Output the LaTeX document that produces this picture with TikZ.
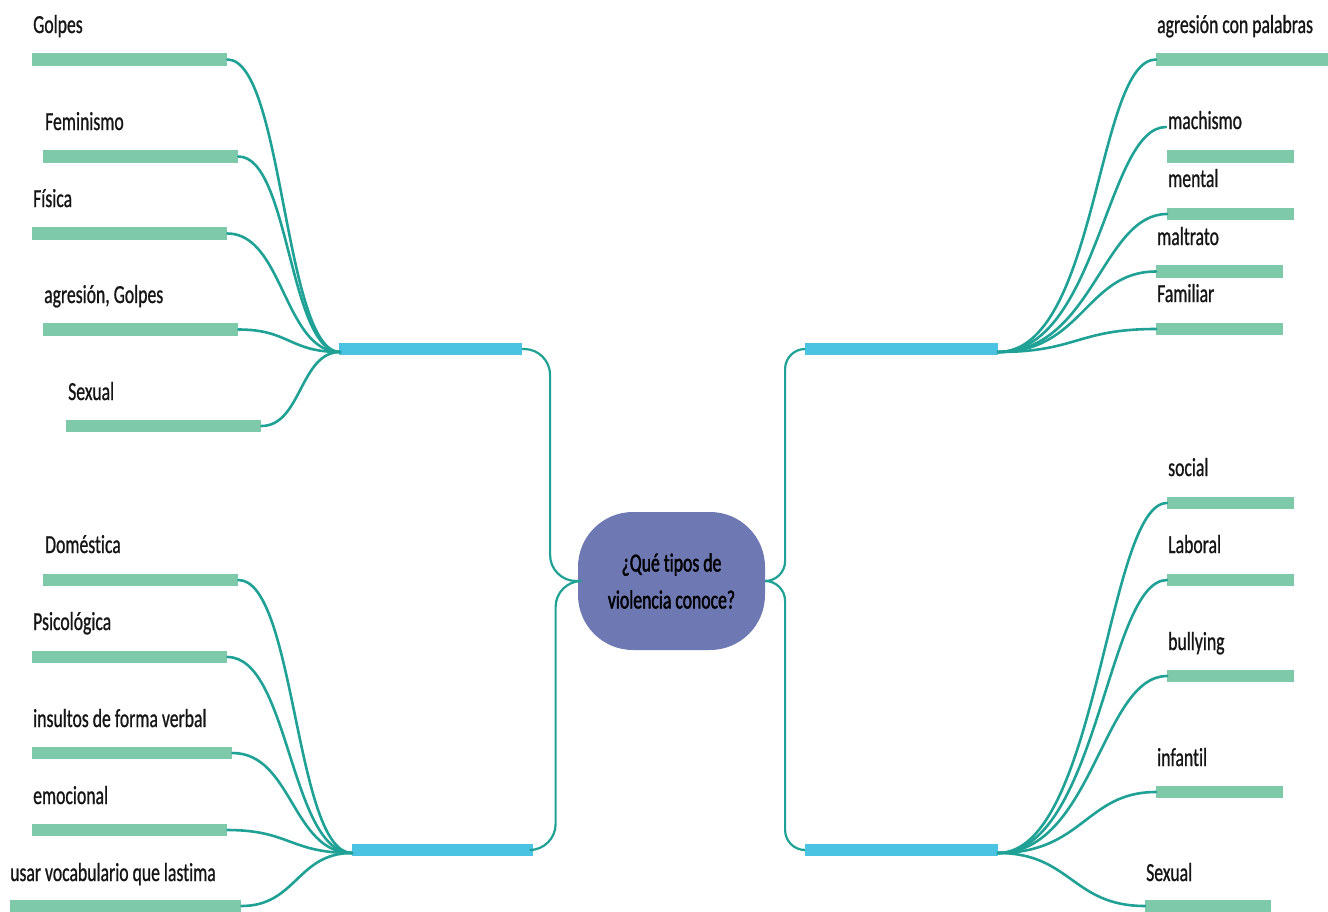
\documentclass[tikz,border=0pt]{standalone}
\usepackage{fontspec}
\setmainfont{Carlito}[FakeStretch=0.68, FakeBold=0.8, Ligatures=NoCommon]
\newfontfamily\centerfont{Carlito}[FakeStretch=0.68, FakeBold=1.6, Ligatures=NoCommon]
\usetikzlibrary{calc}
\definecolor{conncol}{HTML}{1FA195}
\definecolor{leafcol}{HTML}{7DC9A9}
\definecolor{branchcol}{HTML}{4AC3E3}
\definecolor{centercol}{HTML}{6E78B2}
\definecolor{txtcol}{HTML}{151515}
\tikzset{
  leafbar/.style={rectangle, fill=leafcol, minimum height=12.5pt, inner sep=0pt, anchor=west},
  branchbar/.style={rectangle, fill=branchcol, minimum height=12.5pt, inner sep=0pt, anchor=west},
  lbl/.style={anchor=base west, inner sep=0pt, text=txtcol, font=\fontsize{26}{30}\selectfont},
  conn/.style={draw=conncol, line width=2.6pt, line cap=round},
  cconn/.style={draw=conncol, line width=2.2pt, line cap=round},
  centernode/.style={rectangle, fill=centercol, rounded corners=55pt, minimum width=187pt, minimum height=138pt, inner sep=0pt, align=center, text=black, font=\centerfont\fontsize{26}{37}\selectfont}
}
\begin{document}
\begin{tikzpicture}[x=1pt,y=-1pt]
\useasboundingbox (0,0) rectangle (1328,911);
\clip (0,0) rectangle (1328,911);

% center
\node[centernode] (c) at (671.5,581) {¿Qué tipos de\\violencia conoce?};

% top-left
\node[leafbar, minimum width=195pt] (tl1) at (32,59.5) {};
\node[lbl] (tl1t) at (33,33) {Golpes};
\node[leafbar, minimum width=195pt] (tl2) at (43,156.5) {};
\node[lbl] (tl2t) at (45,130) {Feminismo};
\node[leafbar, minimum width=195pt] (tl3) at (32,233.5) {};
\node[lbl] (tl3t) at (33,207) {Física};
\node[leafbar, minimum width=195pt] (tl4) at (43,329.5) {};
\node[lbl] (tl4t) at (44,303) {agresión, Golpes};
\node[leafbar, minimum width=195pt] (tl5) at (66,426) {};
\node[lbl] (tl5t) at (68,400) {Sexual};
\node[branchbar, minimum width=183pt] (tlb) at (339,349) {};
\coordinate (tlh) at (340,352);

% bottom-left
\node[leafbar, minimum width=195pt] (bl1) at (43,580) {};
\node[lbl] (bl1t) at (45,553) {Doméstica};
\node[leafbar, minimum width=195pt] (bl2) at (32,657) {};
\node[lbl] (bl2t) at (33,630) {Psicológica};
\node[leafbar, minimum width=200pt] (bl3) at (32,753) {};
\node[lbl] (bl3t) at (33,727) {insultos de forma verbal};
\node[leafbar, minimum width=195pt] (bl4) at (32,830) {};
\node[lbl] (bl4t) at (33,804) {emocional};
\node[leafbar, minimum width=231pt] (bl5) at (10,906) {};
\node[lbl] (bl5t) at (10,881) {usar vocabulario que lastima};
\node[branchbar, minimum width=181pt] (blb) at (352,850) {};
\coordinate (blh) at (352,853);

% top-right
\node[leafbar, minimum width=180pt] (tr1) at (1156,59.5) {};
\node[lbl] (tr1t) at (1157,33) {agresión con palabras};
\node[leafbar, minimum width=127pt] (tr2) at (1167,156.5) {};
\node[lbl] (tr2t) at (1168,129) {machismo};
\coordinate (tr2c) at (1166,127);
\node[leafbar, minimum width=127pt] (tr3) at (1167,214) {};
\node[lbl] (tr3t) at (1168,187) {mental};
\node[leafbar, minimum width=127pt] (tr4) at (1156,271.5) {};
\node[lbl] (tr4t) at (1157,245) {maltrato};
\node[leafbar, minimum width=127pt] (tr5) at (1156,329) {};
\node[lbl] (tr5t) at (1157,302) {Familiar};
\node[branchbar, minimum width=193pt] (trb) at (805,349) {};
\coordinate (trh) at (998,352);

% bottom-right
\node[leafbar, minimum width=127pt] (br1) at (1167,503) {};
\node[lbl] (br1t) at (1168,476) {social};
\node[leafbar, minimum width=127pt] (br2) at (1167,580) {};
\node[lbl] (br2t) at (1168,553) {Laboral};
\node[leafbar, minimum width=127pt] (br3) at (1167,676) {};
\node[lbl] (br3t) at (1168,650) {bullying};
\node[leafbar, minimum width=127pt] (br4) at (1156,792) {};
\node[lbl] (br4t) at (1157,766) {infantil};
\node[leafbar, minimum width=126pt] (br5) at (1145,906) {};
\node[lbl] (br5t) at (1146,881) {Sexual};
\node[branchbar, minimum width=193pt] (brb) at (805,850) {};
\coordinate (brh) at (998,853);

% center connectors
\draw[cconn, rounded corners=26pt] (c.west) -| ($(c.west)!0.5!(tlb.east)$) |- (tlb.east);
\draw[cconn, rounded corners=26pt] (c.west) -| ($(c.west)!0.5!(blb.east)$) |- (blb.east);
\draw[cconn, rounded corners=20pt] (c.east) -| ($(c.east)!0.5!(trb.west)$) |- (trb.west);
\draw[cconn, rounded corners=20pt] (c.east) -| ($(c.east)!0.5!(brb.west)$) |- (brb.west);

% top-left connectors
\draw[conn] (tl1.east) .. controls +(56,0) and +(-56,0) .. (tlh);
\draw[conn] (tl2.east) .. controls +(51,0) and +(-51,0) .. (tlh);
\draw[conn] (tl3.east) .. controls +(56,0) and +(-56,0) .. (tlh);
\draw[conn] (tl4.east) .. controls +(51,0) and +(-51,0) .. (tlh);
\draw[conn] (tl5.east) .. controls +(40,0) and +(-40,0) .. (tlh);

% bottom-left connectors
\draw[conn] (bl1.east) .. controls +(57,0) and +(-57,0) .. (blh);
\draw[conn] (bl2.east) .. controls +(62,0) and +(-62,0) .. (blh);
\draw[conn] (bl3.east) .. controls +(60,0) and +(-60,0) .. (blh);
\draw[conn] (bl4.east) .. controls +(62,0) and +(-62,0) .. (blh);
\draw[conn] (bl5.east) .. controls +(55,0) and +(-55,0) .. (blh);

% top-right connectors
\draw[conn] (trh) .. controls +(100,0) and +(-60,0) .. (tr1.west);
\draw[conn] (trh) .. controls +(100,0) and +(-60,0) .. (tr2c);
\draw[conn] (trh) .. controls +(95,0) and +(-65,0) .. (tr3.west);
\draw[conn] (trh) .. controls +(85,0) and +(-70,0) .. (tr4.west);
\draw[conn] (trh) .. controls +(79,0) and +(-79,0) .. (tr5.west);

% bottom-right connectors
\draw[conn] (brh) .. controls +(100,0) and +(-60,0) .. (br1.west);
\draw[conn] (brh) .. controls +(100,0) and +(-60,0) .. (br2.west);
\draw[conn] (brh) .. controls +(95,0) and +(-65,0) .. (br3.west);
\draw[conn] (brh) .. controls +(85,0) and +(-70,0) .. (br4.west);
\draw[conn] (brh) .. controls +(73,0) and +(-73,0) .. (br5.west);
\end{tikzpicture}
\end{document}
